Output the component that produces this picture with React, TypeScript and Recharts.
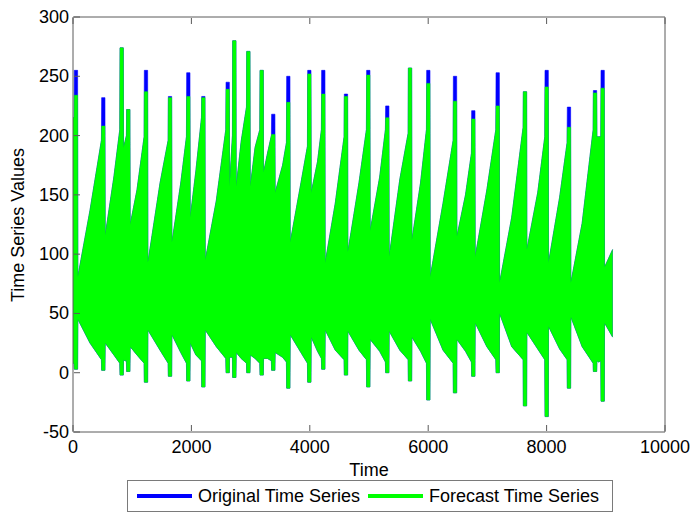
import { Area, ComposedChart, XAxis, YAxis } from "recharts";

// spikes at the end of each sawtooth burst
const spikeTime = [50, 512, 822, 934, 1233, 1639, 1948, 2202, 2613, 2725, 2962, 3187, 3383, 3637, 3992, 4228, 4611, 4988, 5309, 5693, 6002, 6453, 6762, 7174, 7635, 8001, 8378, 8818, 8947];
const spikeTopOriginal = [255, 232, 274, 222, 255, 233, 253, 233, 245, 280, 271, 255, 218, 250, 255, 255, 235, 255, 225, 257, 255, 250, 221, 253, 237, 255, 224, 238, 255];
const spikeTopForecast = [234, 208, 274, 222, 237, 232, 233, 232, 239, 280, 271, 255, 201, 228, 252, 235, 233, 251, 215, 257, 244, 229, 214, 225, 237, 241, 207, 236, 240];
const spikeBottom = [3, 2, -2, 1, -8, -3, -7, -12, 0, -4, 0, -2, 2, -13, -8, 3, -2, -12, 0, -7, -23, -17, -3, 0, -28, -37, -13, 1, -24];
// envelope just before / just after each spike
const beforeTop = [215, 196, 205, 200, 199, 196, 199, 215, 205, 200, 224, 205, 200, 194, 191, 205, 199, 205, 205, 202, 205, 196, 185, 205, 207, 199, 194, 205, 199];
const beforeBottom = [8, 11, 8, 10, 8, 8, 8, 10, 12, 13, 8, 8, 10, 9, 8, 12, 11, 11, 9, 11, 8, 8, 9, 11, 11, 11, 11, 8, 10];
const afterTop = [81, 116, 190, 125, 93, 110, 131, 95, 157, 157, 157, 169, 152, 110, 152, 93, 102, 120, 98, 112, 81, 115, 98, 76, 104, 93, 76, 199, 89];
const afterBottom = [45, 25, 11, 22, 36, 32, 25, 36, 13, 17, 15, 12, 17, 32, 30, 36, 35, 28, 35, 30, 45, 28, 42, 50, 34, 39, 47, 10, 42];
// envelope midway through each burst
const midTime = [287, 690, 878, 1080, 1470, 1820, 2075, 2420, 2670, 2840, 3075, 3285, 3540, 3850, 4130, 4430, 4830, 5180, 5520, 5870, 6250, 6630, 6990, 7410, 7850, 8220, 8600, 8880];
const midTop = [137, 165, 195, 154, 160, 160, 170, 145, 180, 195, 190, 185, 175, 160, 178, 143, 160, 165, 163, 160, 143, 150, 154, 131, 152, 148, 126, 199];
const midBottom = [25, 15, 10, 15, 19, 17, 15, 22, 13, 12, 12, 12, 13, 17, 18, 19, 19, 18, 19, 18, 19, 18, 22, 22, 20, 20, 22, 9];
const firstPoint = { t: 0, top: 215, bottom: 8 };
const lastPoint = { t: 9116, top: 104, bottom: 30 };

const xTicks = [0, 2000, 4000, 6000, 8000, 10000];
const yTicks = [-50, 0, 50, 100, 150, 200, 250, 300];

type Row = { t: number; orig: [number, number]; fcst: [number, number] };

const rows: Row[] = [{ t: firstPoint.t, orig: [firstPoint.bottom, firstPoint.top], fcst: [firstPoint.bottom, firstPoint.top] }];
spikeTime.forEach((t, i) => {
  rows.push({ t: t - 32, orig: [beforeBottom[i], beforeTop[i]], fcst: [beforeBottom[i], beforeTop[i]] });
  rows.push({ t: t - 28, orig: [spikeBottom[i], spikeTopOriginal[i]], fcst: [spikeBottom[i], spikeTopForecast[i]] });
  rows.push({ t: t + 28, orig: [spikeBottom[i], spikeTopOriginal[i]], fcst: [spikeBottom[i], spikeTopForecast[i]] });
  rows.push({ t: t + 32, orig: [afterBottom[i], afterTop[i]], fcst: [afterBottom[i], afterTop[i]] });
  if (i < midTime.length) rows.push({ t: midTime[i], orig: [midBottom[i], midTop[i]], fcst: [midBottom[i], midTop[i]] });
});
rows.push({ t: lastPoint.t, orig: [lastPoint.bottom, lastPoint.top], fcst: [lastPoint.bottom, lastPoint.top] });

const FONT = "'Liberation Sans', Arial, sans-serif";
const AXIS = "#5a5a5a";

const BottomTick = ({ x, y, payload }: any) => (
  <g>
    <line x1={x} x2={x} y1={y - 1} y2={y - 7} stroke={AXIS} />
    <text x={x} y={y + 21} textAnchor="middle" fontSize={18} fontFamily={FONT} fill="#000">
      {payload.value}
    </text>
  </g>
);
const TopTick = ({ x, y }: any) => <line x1={x} x2={x} y1={y + 1} y2={y + 7} stroke={AXIS} />;
const LeftTick = ({ x, y, payload }: any) => (
  <g>
    <line x1={x + 1} x2={x + 7} y1={y} y2={y} stroke={AXIS} />
    <text x={x - 4} y={y + 6} textAnchor="end" fontSize={18} fontFamily={FONT} fill="#000">
      {payload.value}
    </text>
  </g>
);
const RightTick = ({ x, y }: any) => <line x1={x - 1} x2={x - 7} y1={y} y2={y} stroke={AXIS} />;

export default function App() {
  return (
    <div style={{ position: "absolute", left: 0, top: 0, width: 694, height: 514, background: "#fff", fontFamily: FONT }}>
      <ComposedChart width={694} height={514} data={rows} margin={{ top: 16, right: 28, bottom: 81, left: 72 }}>
        <XAxis
          xAxisId="b"
          dataKey="t"
          type="number"
          domain={[0, 10000]}
          ticks={xTicks}
          height={1}
          tickSize={0}
          tickMargin={0}
          tick={<BottomTick />}
          stroke={AXIS}
          interval={0}
          label={{
            content: () => (
              <text x={369} y={476} textAnchor="middle" fontSize={18} fontFamily={FONT} fill="#000">
                Time
              </text>
            ),
          }}
        />
        <XAxis
          xAxisId="t"
          orientation="top"
          dataKey="t"
          type="number"
          domain={[0, 10000]}
          ticks={xTicks}
          height={1}
          tickSize={0}
          tickMargin={0}
          tick={<TopTick />}
          stroke={AXIS}
          interval={0}
        />
        <YAxis
          yAxisId="l"
          type="number"
          domain={[-50, 300]}
          ticks={yTicks}
          width={1}
          tickSize={0}
          tickMargin={0}
          tick={<LeftTick />}
          stroke={AXIS}
          interval={0}
          label={{
            content: () => (
              <text transform="translate(24,225) rotate(-90)" textAnchor="middle" fontSize={18} fontFamily={FONT} fill="#000">
                Time Series Values
              </text>
            ),
          }}
        />
        <YAxis
          yAxisId="r"
          orientation="right"
          type="number"
          domain={[-50, 300]}
          ticks={yTicks}
          width={1}
          tickSize={0}
          tickMargin={0}
          tick={<RightTick />}
          stroke={AXIS}
          interval={0}
        />
        <Area
          xAxisId="b"
          yAxisId="l"
          type="linear"
          dataKey="orig"
          stroke="#0000ff"
          strokeWidth={0.6}
          fill="#0000ff"
          fillOpacity={1}
          dot={false}
          activeDot={false}
          isAnimationActive={false}
        />
        <Area
          xAxisId="b"
          yAxisId="l"
          type="linear"
          dataKey="fcst"
          stroke="#00ff00"
          strokeWidth={0.5}
          fill="#00ff00"
          fillOpacity={1}
          dot={false}
          activeDot={false}
          isAnimationActive={false}
        />
      </ComposedChart>
      <div
        style={{
          position: "absolute",
          left: 127,
          top: 480,
          width: 484,
          height: 30,
          border: "1px solid #7a7a7a",
          background: "#fff",
          display: "flex",
          alignItems: "center",
          fontSize: 18,
          color: "#000",
          whiteSpace: "nowrap",
        }}
      >
        <span style={{ display: "inline-block", width: 55, height: 4, background: "#0000ff", marginLeft: 9 }} />
        <span style={{ marginLeft: 6 }}>Original Time Series</span>
        <span style={{ display: "inline-block", width: 55, height: 4, background: "#00ff00", marginLeft: 8 }} />
        <span style={{ marginLeft: 6 }}>Forecast Time Series</span>
      </div>
    </div>
  );
}
